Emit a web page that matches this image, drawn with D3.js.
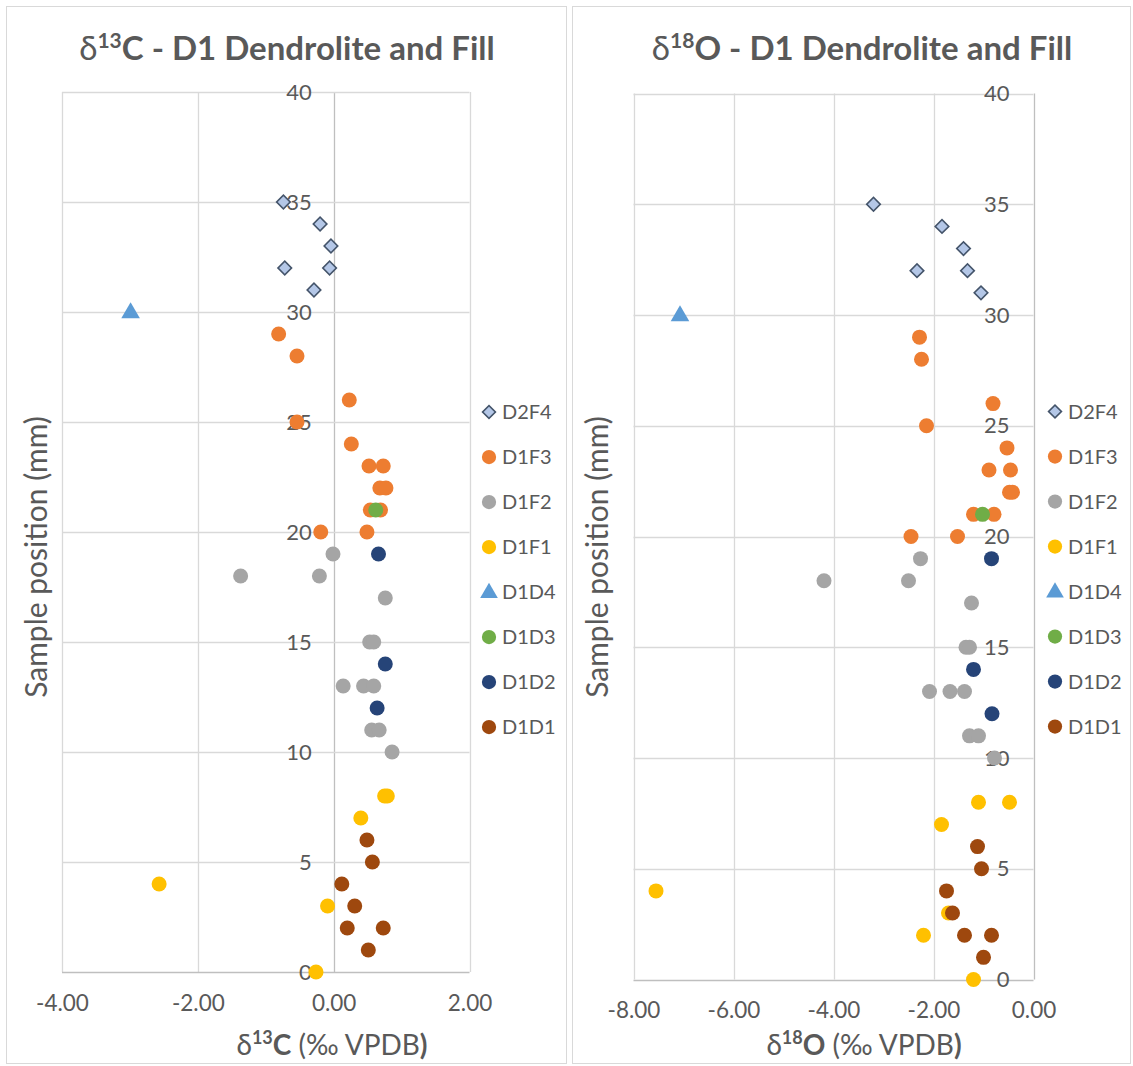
<!DOCTYPE html>
<html>
<head>
<meta charset="utf-8">
<script src="https://cdn.jsdelivr.net/npm/d3@7"></script>
<style>
  html, body { margin: 0; padding: 0; background: #fff; }
  svg { display: block; font-family: Lato, "Liberation Sans", sans-serif; }
</style>
</head>
<body>
<svg id="fig" width="1133" height="1066"></svg>
<script>
// Series names, in legend order
const seriesNames = ["D2F4", "D1F3", "D1F2", "D1F1", "D1D4", "D1D3", "D1D2", "D1D1"];

// δ13C (‰ VPDB) against sample position (mm): [value, position]
const c13_D2F4 = [[-0.74, 35], [-0.20, 34], [-0.04, 33], [-0.06, 32], [-0.72, 32], [-0.29, 31]];
const c13_D1F3 = [[-0.81, 29], [-0.54, 28], [0.23, 26], [-0.54, 25], [0.26, 24], [0.52, 23], [0.73, 23],
                  [0.68, 22], [0.77, 22], [0.54, 21], [0.69, 21], [-0.19, 20], [0.49, 20]];
const c13_D1F2 = [[-0.01, 19], [-1.37, 18], [-0.21, 18], [0.76, 17], [0.53, 15], [0.59, 15],
                  [0.14, 13], [0.44, 13], [0.59, 13], [0.56, 11], [0.67, 11], [0.86, 10]];
const c13_D1F1 = [[0.75, 8], [0.79, 8], [0.40, 7], [-2.57, 4], [-0.09, 3], [-0.26, 0]];
const c13_D1D4 = [[-2.99, 30]];
const c13_D1D3 = [[0.62, 21]];
const c13_D1D2 = [[0.66, 19], [0.76, 14], [0.64, 12]];
const c13_D1D1 = [[0.49, 6], [0.57, 5], [0.12, 4], [0.31, 3], [0.20, 2], [0.73, 2], [0.51, 1]];

// δ18O (‰ VPDB) against sample position (mm): [value, position]
const o18_D2F4 = [[-3.20, 35], [-1.83, 34], [-1.40, 33], [-1.32, 32], [-2.33, 32], [-1.05, 31]];
const o18_D1F3 = [[-2.28, 29], [-2.24, 28], [-0.81, 26], [-2.14, 25], [-0.53, 24], [-0.89, 23], [-0.46, 23],
                  [-0.48, 22], [-0.42, 22], [-1.20, 21], [-0.79, 21], [-2.45, 20], [-1.52, 20]];
const o18_D1F2 = [[-2.26, 19], [-4.19, 18], [-2.50, 18], [-1.24, 17], [-1.35, 15], [-1.28, 15],
                  [-2.08, 13], [-1.67, 13], [-1.38, 13], [-1.28, 11], [-1.10, 11], [-0.78, 10]];
const o18_D1F1 = [[-1.10, 8], [-0.48, 8], [-1.84, 7], [-7.55, 4], [-1.70, 3], [-2.20, 2], [-1.20, 0]];
const o18_D1D4 = [[-7.07, 30]];
const o18_D1D3 = [[-1.02, 21]];
const o18_D1D2 = [[-0.84, 19], [-1.20, 14], [-0.83, 12]];
const o18_D1D1 = [[-1.12, 6], [-1.04, 5], [-1.74, 4], [-1.62, 3], [-1.38, 2], [-0.84, 2], [-1.00, 1]];

// Axis ticks
const c13Ticks = [-4, -2, 0, 2];
const o18Ticks = [-8, -6, -4, -2, 0];
const posTicks = [0, 5, 10, 15, 20, 25, 30, 35, 40];

// Marker styling per series
const seriesStyle = {
  D2F4: { shape: "diamond", fill: "#b4c7e7", stroke: "#44546a" },
  D1F3: { shape: "circle", fill: "#ed7d31" },
  D1F2: { shape: "circle", fill: "#a5a5a5" },
  D1F1: { shape: "circle", fill: "#ffc000" },
  D1D4: { shape: "triangle", fill: "#5b9bd5" },
  D1D3: { shape: "circle", fill: "#70ad47" },
  D1D2: { shape: "circle", fill: "#264478" },
  D1D1: { shape: "circle", fill: "#9e480e" }
};

const TEXT = "#595959";
const GRID = "#d9d9d9";
const AXIS = "#bfbfbf";

const svg = d3.select("#fig");

function marker(g, name, x, y, scale) {
  const st = seriesStyle[name];
  const k = scale || 1;
  if (st.shape === "circle") {
    g.append("circle").attr("cx", x).attr("cy", y).attr("r", 7.5 * k).attr("fill", st.fill);
  } else if (st.shape === "diamond") {
    g.append("path")
      .attr("d", d3.symbol(d3.symbolSquare, 92 * k * k)())
      .attr("transform", `translate(${x},${y}) rotate(45)`)
      .attr("fill", st.fill).attr("stroke", st.stroke).attr("stroke-width", 1.6);
  } else {
    g.append("path")
      .attr("d", d3.symbol(d3.symbolTriangle, 150 * k * k)())
      .attr("transform", `translate(${x},${y + 1})`)
      .attr("fill", st.fill);
  }
}

function drawPanel(cfg) {
  const g = svg.append("g");

  // chart frame
  g.append("rect")
    .attr("x", cfg.frame[0] + 0.5).attr("y", cfg.frame[1] + 0.5)
    .attr("width", cfg.frame[2]).attr("height", cfg.frame[3])
    .attr("fill", "#fff").attr("stroke", GRID).attr("stroke-width", 1);

  const x = d3.scaleLinear().domain(cfg.xDomain).range(cfg.xRange);
  const y = d3.scaleLinear().domain([0, 40]).range(cfg.yRange);

  // vertical gridlines
  g.append("g").selectAll("line").data(cfg.xTicks).join("line")
    .attr("x1", d => Math.round(x(d)) + 0.5).attr("x2", d => Math.round(x(d)) + 0.5)
    .attr("y1", y(40)).attr("y2", y(0))
    .attr("stroke", d => d === 0 ? AXIS : GRID).attr("stroke-width", 1.3);

  // horizontal gridlines
  g.append("g").selectAll("line").data(posTicks).join("line")
    .attr("x1", x(cfg.xDomain[0])).attr("x2", x(cfg.xDomain[1]))
    .attr("y1", d => Math.round(y(d)) + 0.5).attr("y2", d => Math.round(y(d)) + 0.5)
    .attr("stroke", d => d === 0 ? AXIS : GRID).attr("stroke-width", 1.3);

  // position axis labels sit beside the zero line
  const yAxis = d3.axisLeft(y).tickValues(posTicks).tickSize(0).tickPadding(cfg.yLabelPad);
  const ya = g.append("g").attr("transform", `translate(${x(0)},0)`).call(yAxis);
  ya.select(".domain").remove();
  ya.selectAll("text").attr("fill", TEXT).attr("font-size", 22).attr("font-family", "Lato");

  // value axis labels along the bottom
  const xAxis = d3.axisBottom(x).tickValues(cfg.xTicks).tickSize(0).tickPadding(cfg.xLabelPad)
    .tickFormat(d3.format(".2f"));
  const xa = g.append("g").attr("transform", `translate(0,${y(0)})`).call(xAxis);
  xa.select(".domain").remove();
  xa.selectAll("text").attr("fill", TEXT).attr("font-size", 22.5).attr("font-family", "Lato")
    .text(d => d3.format(".2f")(d).replace("−", "-"));

  // points
  const pts = g.append("g");
  seriesNames.forEach(name => {
    cfg.data[name].forEach(([v, p]) => marker(pts, name, x(v), y(p)));
  });

  // title
  const t = g.append("text").attr("x", cfg.titleX).attr("y", 60)
    .attr("text-anchor", "middle").attr("fill", TEXT)
    .attr("font-size", 33).attr("font-weight", "bold");
  t.append("tspan").attr("font-weight", "normal").text("δ");
  t.append("tspan").attr("font-size", 21).attr("dy", -12).text(cfg.iso);
  t.append("tspan").attr("dy", 12).text(cfg.elem + " - D1 Dendrolite and Fill");

  // y axis title
  g.append("text")
    .attr("transform", `translate(${cfg.yTitleX},${cfg.yTitleY}) rotate(-90)`)
    .attr("text-anchor", "middle").attr("fill", TEXT).attr("font-size", 30)
    .text("Sample position (mm)");

  // x axis title
  const xt = g.append("text").attr("x", cfg.xTitleX).attr("y", 1055)
    .attr("text-anchor", "middle").attr("fill", TEXT).attr("font-size", 28);
  xt.append("tspan").text("δ");
  xt.append("tspan").attr("font-size", 18).attr("font-weight", "bold").attr("dy", -11).text(cfg.iso);
  xt.append("tspan").attr("font-weight", "bold").attr("dy", 11).text(cfg.elem);
  xt.append("tspan").text(" (‰ VPDB");
  xt.append("tspan").attr("font-weight", "bold").text(")");

  // legend
  const lg = g.append("g");
  seriesNames.forEach((name, i) => {
    const ly = cfg.legendY + i * 45;
    marker(lg, name, cfg.legendX, ly, 0.95);
    lg.append("text").attr("x", cfg.legendX + 13).attr("y", ly).attr("dy", "0.35em")
      .attr("fill", TEXT).attr("font-size", 20).text(name);
  });
}

drawPanel({
  frame: [6, 6, 560, 1057],
  xDomain: [-4, 2], xRange: [62, 469.5], yRange: [972, 92],
  xTicks: c13Ticks, yLabelPad: 22, xLabelPad: 23,
  iso: "13", elem: "C", titleX: 287, xTitleX: 332, yTitleX: 47, yTitleY: 557,
  legendX: 489, legendY: 412,
  data: { D2F4: c13_D2F4, D1F3: c13_D1F3, D1F2: c13_D1F2, D1F1: c13_D1F1,
          D1D4: c13_D1D4, D1D3: c13_D1D3, D1D2: c13_D1D2, D1D1: c13_D1D1 }
});

drawPanel({
  frame: [572, 6, 558, 1057],
  xDomain: [-8, 0], xRange: [633.5, 1033.5], yRange: [979.5, 93.5],
  xTicks: o18Ticks, yLabelPad: 24, xLabelPad: 23,
  iso: "18", elem: "O", titleX: 862, xTitleX: 864, yTitleX: 608, yTitleY: 557,
  legendX: 1055, legendY: 411.5,
  data: { D2F4: o18_D2F4, D1F3: o18_D1F3, D1F2: o18_D1F2, D1F1: o18_D1F1,
          D1D4: o18_D1D4, D1D3: o18_D1D3, D1D2: o18_D1D2, D1D1: o18_D1D1 }
});
</script>
</body>
</html>
